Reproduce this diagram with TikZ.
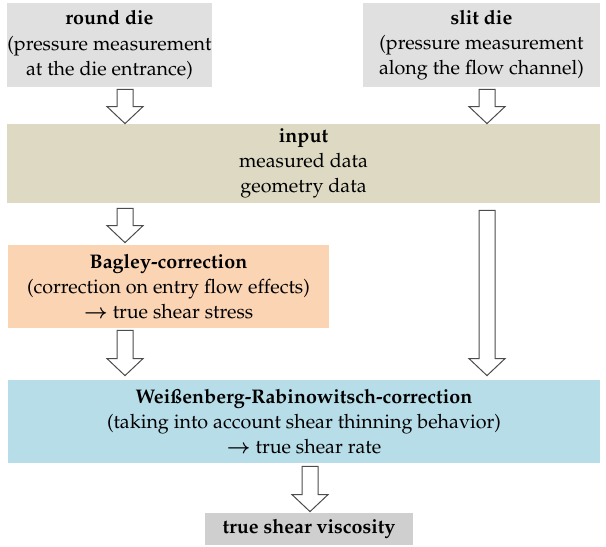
\documentclass[tikz,border=0pt]{standalone}
\usepackage[T1]{fontenc}
\usepackage{mathpazo}
\usetikzlibrary{calc}
\definecolor{boxgray}{HTML}{E0E0E0}
\definecolor{endgray}{HTML}{CFCFCF}
\definecolor{inputtan}{HTML}{DDD9C3}
\definecolor{bagleypeach}{HTML}{FBD4B4}
\definecolor{wrblue}{HTML}{B7DDE8}
\begin{document}
\begin{tikzpicture}[x=0.5pt, y=-0.5pt, font=\fontsize{9.85}{12.6}\selectfont,
	box/.style = {align=center, inner sep=0pt, anchor=center},
	fat/.style = {draw=black!70, line width=0.5pt, fill=white,
		to path={let \p1=(\tikztostart), \p2=(\tikztotarget) in
			(\x1-4pt,\y1) -- (\x1+4pt,\y1) -- (\x1+4pt,\y2+8.5pt) -- (\x1+9pt,\y2+8.5pt)
			-- (\x1,\y2) -- (\x1-9pt,\y2+8.5pt) -- (\x1-4pt,\y2+8.5pt) -- cycle}}]

		\useasboundingbox (0,0) rectangle (606,547);

		\node[box, fill=boxgray, minimum width=101.5pt, minimum height=42pt] (round) at (109.5,45) {\textbf{round die}\\(pressure measurement\\at the die entrance)};
		\node[box, fill=boxgray, minimum width=118.5pt, minimum height=42pt] (slit) at (481.5,45) {\textbf{slit die}\\(pressure measurement\\along the flow channel)};
		\node[box, fill=inputtan, minimum width=296.5pt, minimum height=39.5pt] (input) at (303.5,163.5) {\textbf{input}\\measured data\\geometry data};
		\node[box, fill=bagleypeach, minimum width=160.5pt, minimum height=41.5pt] (bagley) at (168.5,286.5) {\textbf{Bagley-correction}\\(correction on entry flow effects)\\{\boldmath$\rightarrow$} true shear stress};
		\node[box, fill=wrblue, minimum width=296pt, minimum height=41.5pt] (wr) at (304,421.5) {\textbf{Wei\ss enberg-Rabinowitsch-correction}\\(taking into account shear thinning behavior)\\{\boldmath$\rightarrow$} true shear rate};
		\node[box, fill=endgray, minimum width=104pt, minimum height=16pt] (visc) at (309,529) {\textbf{true shear viscosity}};

		\coordinate (lcol) at (125,0);
		\coordinate (rcol) at (487,0);
		\coordinate (mcol) at (310,0);

		\draw[fat] ([yshift=-1pt]round.south -| lcol) to (input.north -| lcol);
		\draw[fat] ([yshift=-1pt]slit.south -| rcol) to (input.north -| rcol);
		\draw[fat] ([yshift=-2.5pt]input.south -| lcol) to ([yshift=1pt]bagley.north -| lcol);
		\draw[fat] ([yshift=-3.5pt]input.south -| rcol) to ([yshift=2pt]wr.north -| rcol);
		\draw[fat] ([yshift=-1pt]bagley.south -| lcol) to ([yshift=2pt]wr.north -| lcol);
		\draw[fat] ([yshift=-1.5pt]wr.south -| mcol) to ([yshift=0.5pt]visc.north -| mcol);
	\end{tikzpicture}
\end{document}
